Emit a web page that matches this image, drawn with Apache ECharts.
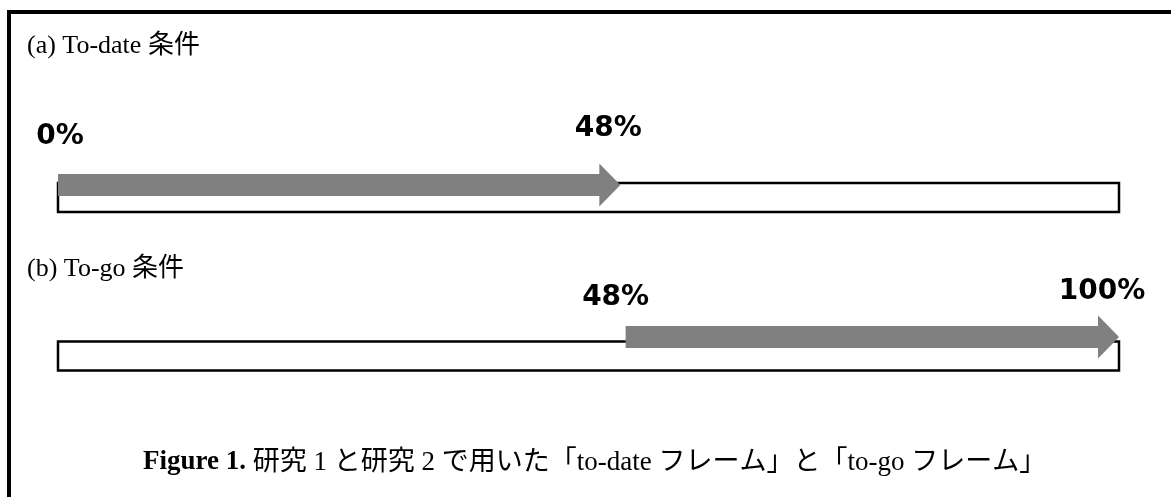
<!DOCTYPE html>
<html>
<head>
<meta charset="utf-8">
<script src="https://cdn.jsdelivr.net/npm/echarts@6/dist/echarts.min.js"></script>
<style>html,body{margin:0;padding:0;background:#fff}#c{width:1171px;height:497px}</style>
</head>
<body>
<div id="c"></div>
<script>
// ---- data ----
const rowNames = ['(a) To-date 条件', '(b) To-go 条件'];
const barMin = 0;
const barMax = 100;
const arrowStart = [0, 53.5];     // drawn start of grey arrow (% of bar)
const arrowEnd = [53, 100];       // drawn tip of grey arrow (% of bar)
const startLabels = ['0%', '48%'];
const endLabels = ['48%', '100%'];
const captionBold = 'Figure 1.';
const captionText = ' 研究 1 と研究 2 で用いた「to-date フレーム」と「to-go フレーム」';

// ---- styles ----
const style = {
  barHeight: 29,
  arrowDy: [-12.5, -19],
  shaft: 22,
  headLen: 21,
  headH: 43,
  startLabelOff: [[2, -60.5], [-10, -58]],
  endLabelOff: [[-12, -68.5], [-17, -64]]
};

const chart = echarts.init(document.getElementById('c'), null, {renderer: 'canvas'});
const serif = '"Liberation Serif", "Times New Roman", "Noto Sans CJK JP", serif';
const labelFont = 'bold 28px "DejaVu Sans", sans-serif';

const seriesData = rowNames.map((n, i) => [i, arrowStart[i], arrowEnd[i]]);

chart.setOption({
  animation: false,
  backgroundColor: '#fff',
  title: [
    {text: rowNames[0], left: 27, top: 33, padding: 0, textStyle: {fontFamily: serif, fontWeight: 'normal', fontSize: 26, color: '#000'}},
    {text: rowNames[1], left: 27, top: 256, padding: 0, textStyle: {fontFamily: serif, fontWeight: 'normal', fontSize: 26, color: '#000'}},
    {text: '{b|' + captionBold + '}{r|' + captionText + '}', left: 143, top: 449, padding: 0,
     textStyle: {rich: {
       b: {fontFamily: serif, fontWeight: 'bold', fontSize: 27, color: '#000'},
       r: {fontFamily: serif, fontWeight: 'normal', fontSize: 27, color: '#000'}
     }}}
  ],
  graphic: [
    {type: 'polyline', shape: {points: [[9, 497], [9, 12], [1171, 12]]}, style: {stroke: '#000', lineWidth: 4, fill: null}}
  ],
  grid: {left: 58, right: 52, top: 118.25, height: 317},
  xAxis: {type: 'value', min: barMin, max: barMax, show: false},
  yAxis: {type: 'category', data: rowNames, inverse: true, show: false},
  series: [{
    type: 'custom',
    data: seriesData,
    encode: {x: [1, 2], y: 0},
    renderItem: function (params, api) {
      const i = api.value(0);
      const x0 = api.coord([barMin, i])[0];
      const x1 = api.coord([barMax, i])[0];
      const cy = api.coord([barMin, i])[1];
      const xs = api.coord([api.value(1), i])[0];
      const xe = api.coord([api.value(2), i])[0];
      const ay = cy + style.arrowDy[i];
      const hb = xe - style.headLen;
      const s = style.shaft / 2, h = style.headH / 2;
      const so = style.startLabelOff[i], eo = style.endLabelOff[i];
      return {
        type: 'group',
        children: [
          {type: 'rect', shape: {x: x0, y: cy - style.barHeight / 2, width: x1 - x0, height: style.barHeight},
           style: {fill: '#fff', stroke: '#000', lineWidth: 2.5}},
          {type: 'polygon', shape: {points: [[xs, ay - s], [hb, ay - s], [hb, ay - h], [xe, ay], [hb, ay + h], [hb, ay + s], [xs, ay + s]]},
           style: {fill: '#808080'}},
          {type: 'text', x: xs + so[0], y: cy + so[1],
           style: {text: startLabels[i], font: labelFont, fill: '#000', align: 'center', verticalAlign: 'middle'}},
          {type: 'text', x: xe + eo[0], y: cy + eo[1],
           style: {text: endLabels[i], font: labelFont, fill: '#000', align: 'center', verticalAlign: 'middle'}}
        ]
      };
    }
  }]
});
</script>
</body>
</html>
